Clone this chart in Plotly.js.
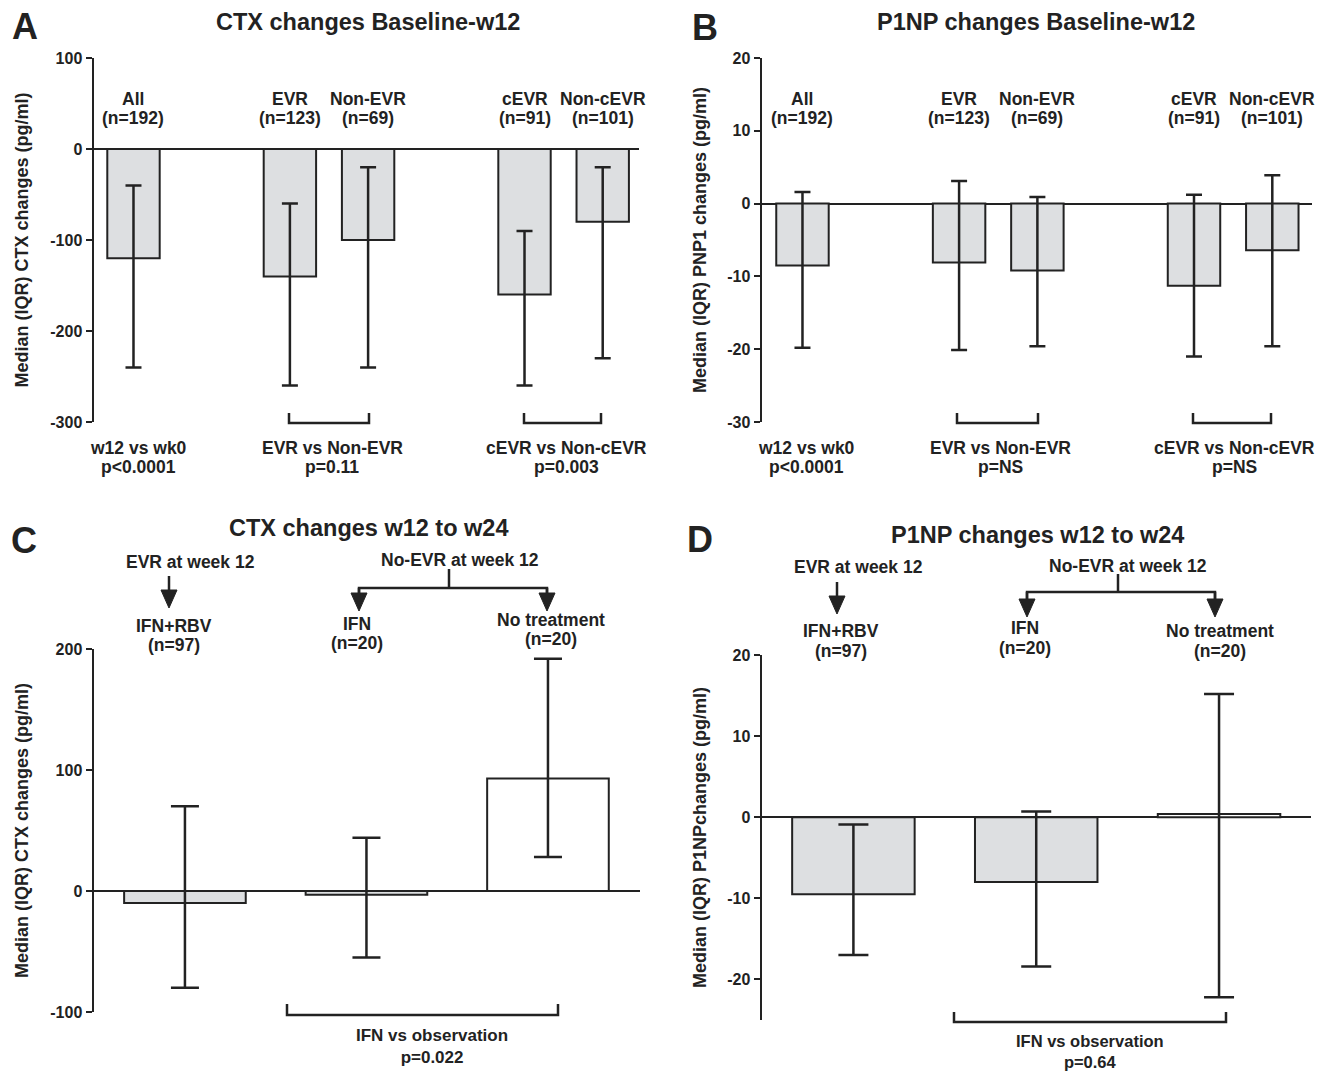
<!DOCTYPE html>
<html>
<head>
<meta charset="utf-8">
<script src="https://cdn.plot.ly/plotly-3.0.1.min.js"></script>
<style>html,body{margin:0;padding:0;background:#fff;}#chart{width:1323px;height:1071px;}</style>
</head>
<body>
<div id="chart"></div>
<script>
// ---------- data ----------
const abCategories = ['All', 'EVR', 'Non-EVR', 'cEVR', 'Non-cEVR'];
const abN = ['(n=192)', '(n=123)', '(n=69)', '(n=91)', '(n=101)'];
const ctxMedian = [-120, -140, -100, -160, -80];
const ctxQ3 = [-40, -60, -20, -90, -20];
const ctxQ1 = [-240, -260, -240, -260, -230];
const p1npMedian = [-8.5, -8.1, -9.2, -11.3, -6.4];
const p1npQ3 = [1.6, 3.1, 0.9, 1.2, 3.9];
const p1npQ1 = [-19.8, -20.1, -19.6, -21.0, -19.6];

const cdCategories = ['IFN+RBV', 'IFN', 'No treatment'];
const cdN = ['(n=97)', '(n=20)', '(n=20)'];
const ctx24Median = [-10, -3, 93];
const ctx24Q3 = [70, 44, 192];
const ctx24Q1 = [-80, -55, 28];
const p1np24Median = [-9.5, -8.0, 0.4];
const p1np24Q3 = [-0.9, 0.7, 15.2];
const p1np24Q1 = [-17.0, -18.4, -22.2];

const ctxTicks = [-300, -200, -100, 0, 100];
const ctxTickText = ['-300', '-200', '-100', '0', '100'];
const p1npTicks = [-30, -20, -10, 0, 10, 20];
const p1npTickText = ['-30', '-20', '-10', '0', '10', '20'];
const ctx24Ticks = [-100, 0, 100, 200];
const ctx24TickText = ['-100', '0', '100', '200'];
const p1np24Ticks = [-20, -10, 0, 10, 20];
const p1np24TickText = ['-20', '-10', '0', '10', '20'];

const abComparisons = ['w12 vs wk0', 'EVR vs Non-EVR', 'cEVR vs Non-cEVR'];
const ctxPvals = ['p<0.0001', 'p=0.11', 'p=0.003'];
const p1npPvals = ['p<0.0001', 'p=NS', 'p=NS'];
const cdComparison = 'IFN vs observation';
const ctx24Pval = 'p=0.022';
const p1np24Pval = 'p=0.64';

// ---------- layout helpers ----------
const W = 1323, H = 1071;
const X = p => p / W;
const Y = p => 1 - p / H;
const slotsAB = [0, 2, 3, 5, 6];
const slotsCD = [0, 1, 2];
const INK = '#222222';
const GRAY = '#dddfe1';
const FONT = 'Liberation Sans, Arial, Helvetica, sans-serif';

function bar(slots, med, q3, q1, xa, ya, colors, capw) {
  return {
    type: 'bar', x: slots, y: med, xaxis: xa, yaxis: ya,
    width: 0.67,
    marker: {color: colors, line: {color: INK, width: 2}},
    error_y: {
      type: 'data', symmetric: false,
      array: q3.map((v, i) => v - med[i]),
      arrayminus: q1.map((v, i) => med[i] - v),
      color: INK, thickness: 2.5, width: capw
    },
    hoverinfo: 'skip', showlegend: false
  };
}

const traces = [
  bar(slotsAB, ctxMedian, ctxQ3, ctxQ1, 'x', 'y', GRAY, 8),
  bar(slotsAB, p1npMedian, p1npQ3, p1npQ1, 'x2', 'y2', GRAY, 8),
  bar(slotsCD, ctx24Median, ctx24Q3, ctx24Q1, 'x3', 'y3', [GRAY, GRAY, '#ffffff'], 14),
  bar(slotsCD, p1np24Median, p1np24Q3, p1np24Q1, 'x4', 'y4', [GRAY, GRAY, '#ffffff'], 15)
];

function xax(d0, d1, r0, r1, anchor) {
  return {domain: [X(d0), X(d1)], range: [r0, r1], anchor: anchor, showline: false, showgrid: false,
    zeroline: false, showticklabels: false, ticks: '', fixedrange: true};
}
function yax(d0, d1, r, tv, tt, title, standoff, anchor) {
  return {
    domain: [Y(d1), Y(d0)], range: r, anchor: anchor,
    tickvals: tv, ticktext: tt, ticks: 'outside', ticklen: 6, tickwidth: 2, tickcolor: INK,
    showline: true, linecolor: INK, linewidth: 2.5, showgrid: false,
    zeroline: true, zerolinecolor: INK, zerolinewidth: 2,
    tickfont: {family: FONT, size: 16, color: INK, weight: 'bold'},
    title: {text: title, font: {family: FONT, size: 18, color: INK, weight: 'bold'}, standoff: standoff},
    automargin: false, fixedrange: true
  };
}

const annotations = [];
function txt(text, x, y, size, xref) {
  annotations.push({text: text, x: xref ? x : X(x), y: Y(y), xref: xref || 'paper', yref: 'paper',
    xanchor: 'center', yanchor: 'middle', showarrow: false,
    font: {family: FONT, size: size || 17.5, color: INK, weight: 'bold'}});
}

// panel letters & titles
txt('A', 25, 26, 36); txt('B', 705, 27, 36); txt('C', 24, 540, 36); txt('D', 700, 539, 36);
txt('CTX changes Baseline-w12', 368, 22, 23.5);
txt('P1NP changes Baseline-w12', 1036, 22, 23.5);
txt('CTX changes w12 to w24', 369, 528, 23.5);
txt('P1NP changes w12 to w24', 1037, 535, 23.5);

// A / B group labels
abCategories.forEach((c, i) => {
  txt(c, slotsAB[i], 99, 17.5, 'x'); txt(abN[i], slotsAB[i], 118, 17.5, 'x');
  txt(c, slotsAB[i], 99, 17.5, 'x2'); txt(abN[i], slotsAB[i], 118, 17.5, 'x2');
});
const abCompX_A = [138, 332, 566], abCompX_B = [806, 1000, 1234];
abComparisons.forEach((c, i) => {
  txt(c, abCompX_A[i], 448); txt(ctxPvals[i], abCompX_A[i], 467);
  txt(c, abCompX_B[i], 448); txt(p1npPvals[i], abCompX_B[i], 467);
});

// C / D labels
txt('EVR at week 12', 190, 562); txt('No-EVR at week 12', 460, 560);
txt('EVR at week 12', 858, 567); txt('No-EVR at week 12', 1128, 566);
const cLabX = [174, 357, 551], cLabY = [626, 624, 620];
const dLabX = [841, 1025, 1220], dLabY = [631, 628, 631];
cdCategories.forEach((c, i) => {
  txt(c, cLabX[i], cLabY[i]); txt(cdN[i], cLabX[i], cLabY[i] + 19);
  txt(c, dLabX[i], dLabY[i]); txt(cdN[i], dLabX[i], dLabY[i] + 20);
});
txt(cdComparison + '<br>' + ctx24Pval, 432, 1046, 17);
txt(cdComparison + '<br>' + p1np24Pval, 1090, 1051, 16.5);

// ---------- decoration shapes ----------
const shapes = [];
const LW = 2.5;
function path(d, fill) {
  shapes.push({type: 'path', xref: 'paper', yref: 'paper', path: d,
    line: {color: INK, width: fill ? 1 : LW}, fillcolor: fill ? INK : 'rgba(0,0,0,0)'});
}
const P = (x, y) => X(x) + ',' + Y(y);
function bracket(x0, x1, yTop, yBot) {
  path('M' + P(x0, yTop) + ' L' + P(x0, yBot) + ' L' + P(x1, yBot) + ' L' + P(x1, yTop));
}
function arrow(x, y0, tip) {
  path('M' + P(x, y0) + ' L' + P(x, tip - 12));
  path('M' + P(x - 8, tip - 18) + ' L' + P(x + 8, tip - 18) + ' L' + P(x, tip) + ' Z', true);
}
bracket(289, 369, 413, 423); bracket(524, 601, 413, 423);
bracket(957, 1038, 413, 423); bracket(1193, 1271, 413, 423);
bracket(287, 558, 1004, 1015); bracket(954, 1226, 1012, 1022);

// C arrows
arrow(169, 576, 608);
path('M' + P(449, 569) + ' L' + P(449, 588));
path('M' + P(359, 598) + ' L' + P(359, 588) + ' L' + P(547, 588) + ' L' + P(547, 598));
arrow(359, 588, 611); arrow(547, 588, 611);
// D arrows
arrow(837, 582, 614);
path('M' + P(1118, 574) + ' L' + P(1118, 592));
path('M' + P(1027, 600) + ' L' + P(1027, 592) + ' L' + P(1215, 592) + ' L' + P(1215, 600));
arrow(1027, 592, 617); arrow(1215, 592, 617);

const layout = {
  width: W, height: H, margin: {l: 0, r: 0, t: 0, b: 0},
  paper_bgcolor: '#ffffff', plot_bgcolor: 'rgba(0,0,0,0)',
  showlegend: false,
  xaxis: xax(94, 639, -0.505, 6.464, 'y'),
  yaxis: yax(58, 422, [-300, 100], ctxTicks, ctxTickText, 'Median (IQR) CTX changes (pg/ml)', 17, 'x'),
  xaxis2: xax(762, 1312, -0.517, 6.507, 'y2'),
  yaxis2: yax(58, 422, [-30, 20], p1npTicks, p1npTickText, 'Median (IQR) PNP1 changes (pg/ml)', 16, 'x2'),
  xaxis3: xax(94, 640, -0.501, 2.507, 'y3'),
  yaxis3: yax(649, 1012, [-100, 200], ctx24Ticks, ctx24TickText, 'Median (IQR) CTX changes (pg/ml)', 17, 'x3'),
  xaxis4: xax(762, 1311, -0.5, 2.503, 'y4'),
  yaxis4: yax(655, 1020, [-25, 20], p1np24Ticks, p1np24TickText, 'Median (IQR) P1NPchanges (pg/ml)', 16, 'x4'),
  annotations: annotations,
  shapes: shapes
};

Plotly.newPlot('chart', traces, layout, {staticPlot: true, displayModeBar: false});
</script>
</body>
</html>
